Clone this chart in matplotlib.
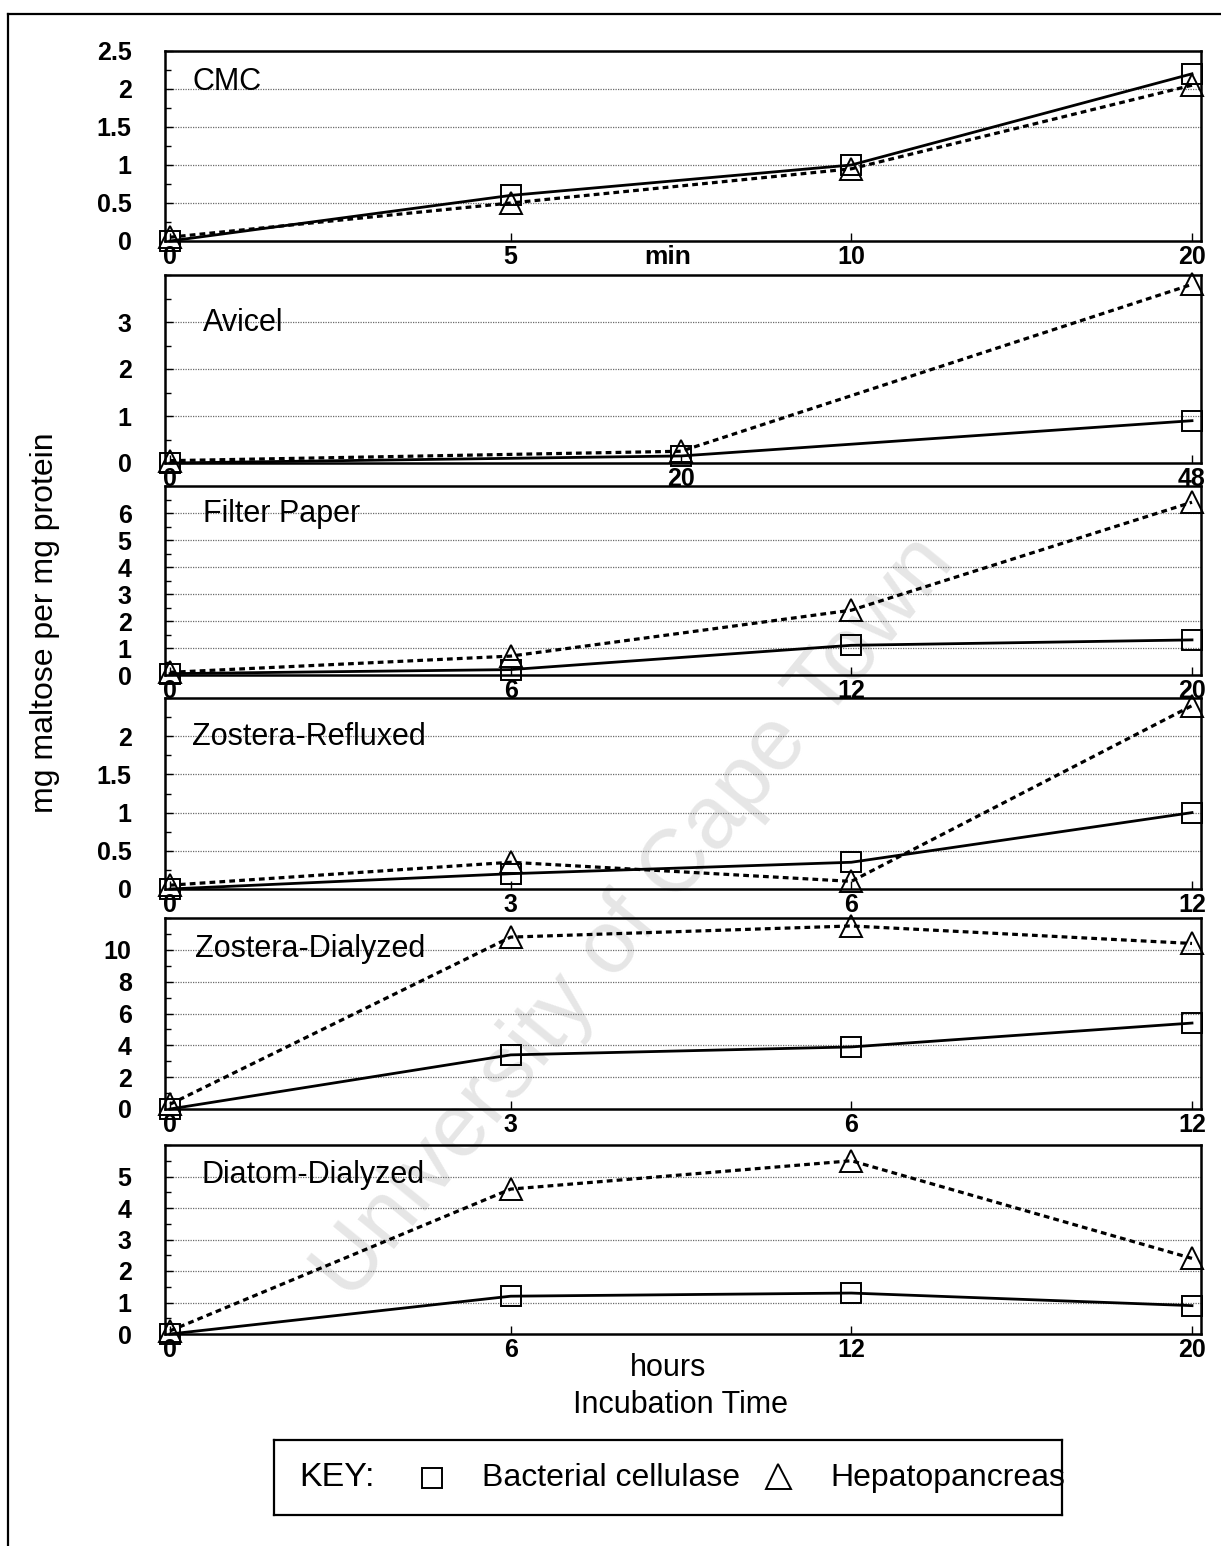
import numpy as np
import matplotlib
matplotlib.use("Agg")
import matplotlib.pyplot as plt
from matplotlib.lines import Line2D
from matplotlib.ticker import FixedLocator, AutoMinorLocator, FuncFormatter

plt.rcParams["font.family"] = ["Liberation Sans", "DejaVu Sans"]

# ---- data -------------------------------------------------------------
titles = ["CMC", "Avicel", "Filter Paper", "Zostera-Refluxed",
          "Zostera-Dialyzed", "Diatom-Dialyzed"]

cmc_times = ["0", "5", "10", "20"]
avicel_times = ["0", "20", "48"]
filter_times = ["0", "6", "12", "20"]
zref_times = ["0", "3", "6", "12"]
zdia_times = ["0", "3", "6", "12"]
diatom_times = ["0", "6", "12", "20"]

cmc_bacterial = [0.0, 0.6, 1.0, 2.2]
cmc_hepato = [0.05, 0.5, 0.95, 2.05]
avicel_bacterial = [0.0, 0.15, 0.9]
avicel_hepato = [0.05, 0.25, 3.8]
filter_bacterial = [0.05, 0.2, 1.1, 1.3]
filter_hepato = [0.1, 0.7, 2.4, 6.4]
zref_bacterial = [0.0, 0.2, 0.35, 1.0]
zref_hepato = [0.05, 0.35, 0.1, 2.4]
zdia_bacterial = [0.0, 3.4, 3.9, 5.4]
zdia_hepato = [0.3, 10.8, 11.5, 10.4]
diatom_bacterial = [0.0, 1.2, 1.3, 0.9]
diatom_hepato = [0.1, 4.6, 5.5, 2.4]

yticks_list = [
    [0, 0.5, 1, 1.5, 2, 2.5],
    [0, 1, 2, 3],
    [0, 1, 2, 3, 4, 5, 6],
    [0, 0.5, 1, 1.5, 2],
    [0, 2, 4, 6, 8, 10],
    [0, 1, 2, 3, 4, 5],
]
ymax_list = [2.5, 4, 7, 2.5, 12, 6]

times_list = [cmc_times, avicel_times, filter_times, zref_times,
              zdia_times, diatom_times]
bacterial_list = [cmc_bacterial, avicel_bacterial, filter_bacterial,
                  zref_bacterial, zdia_bacterial, diatom_bacterial]
hepato_list = [cmc_hepato, avicel_hepato, filter_hepato, zref_hepato,
               zdia_hepato, diatom_hepato]

# ---- figure -----------------------------------------------------------
W, H = 1221, 1546
fig = plt.figure(figsize=(W / 100, H / 100), dpi=100)


def fx(x):
    return x / W


def fy(y):
    return 1 - y / H


# panel extents in pixels (top, bottom)
panel_rows = [(51, 241), (275, 463), (486, 675), (698, 889), (918, 1109),
              (1145, 1334)]
left_px, right_px = 165, 1201
x0_px, x3_px = 170, 1192
unit = (x3_px - x0_px) / 3.0
xlim = ((left_px - x0_px) / unit, (right_px - x0_px) / unit)
# panel name placement (left edge, baseline) in pixels
title_pos = [(192, 90), (203, 331), (203, 522), (192, 745), (195, 957),
             (201, 1183)]

tick_font = dict(family=["Liberation Sans", "DejaVu Sans"], weight="bold",
                 size=18)

for i, (top, bot) in enumerate(panel_rows):
    ax = fig.add_axes([fx(left_px), fy(bot), fx(right_px - left_px),
                       (bot - top) / H])
    ax.set_facecolor("none")
    n = len(times_list[i])
    xs = np.linspace(0, 3, n)
    ax.plot(xs, bacterial_list[i], color="black", lw=2.0, ls="-",
            marker="s", ms=14, mfc="none", mec="black", mew=1.4,
            clip_on=False, zorder=4)
    ax.plot(xs, hepato_list[i], color="black", lw=2.3, ls=(0, (1.8, 1.3)),
            marker="^", ms=16, mfc="none", mec="black", mew=1.4,
            clip_on=False, zorder=4)

    ax.set_xlim(*xlim)
    ax.set_ylim(0, ymax_list[i])
    ax.set_xticks(xs)
    ax.set_xticklabels(times_list[i], fontdict=tick_font)
    ax.yaxis.set_major_locator(FixedLocator(yticks_list[i]))
    ax.yaxis.set_major_formatter(FuncFormatter(lambda v, p: "%g" % v))
    ax.yaxis.set_minor_locator(AutoMinorLocator(2))
    for lab in ax.get_yticklabels():
        lab.set_fontweight("bold")
        lab.set_fontsize(18)
    ax.tick_params(axis="y", which="major", direction="in", length=6,
                   width=1, pad=24)
    ax.tick_params(axis="y", which="minor", direction="in", length=4,
                   width=1)
    ax.tick_params(axis="x", direction="in", length=6, width=1, pad=3)
    for sp in ax.spines.values():
        sp.set_linewidth(1.8)
    for yv in yticks_list[i][1:]:
        ax.axhline(yv, color="#6a6a6a", lw=0.9, ls=(0, (1, 1)), zorder=1)

    tx, ty = title_pos[i]
    fig.text(fx(tx), fy(ty), titles[i], ha="left", va="baseline",
             fontsize=22, zorder=3)

# axis titles and unit labels
fig.text(fx(668), fy(257), "min", ha="center", va="center", fontsize=19,
         fontweight="bold")
fig.text(fx(668), fy(1368), "hours", ha="center", va="center", fontsize=22)
fig.text(fx(680), fy(1405), "Incubation Time", ha="center", va="center",
         fontsize=22)
fig.text(fx(45), fy(623), "mg maltose per mg protein", rotation=90,
         ha="center", va="center", fontsize=23)

# key box
leg = fig.add_axes([fx(274), fy(1515), fx(1062 - 274), (1515 - 1440) / H])
leg.set_xlim(274, 1062)
leg.set_ylim(1515, 1440)
leg.set_xticks([])
leg.set_yticks([])
for sp in leg.spines.values():
    sp.set_linewidth(1.6)
leg.text(299, 1478, "KEY:", ha="left", va="center", fontsize=24.5)
leg.plot([432], [1478], marker="s", ms=14, mfc="none", mec="black", mew=1.4)
leg.text(482, 1478, "Bacterial cellulase", ha="left", va="center",
         fontsize=23)
leg.plot([778], [1476], marker="^", ms=18, mfc="none", mec="black", mew=1.4)
leg.text(830, 1478, "Hepatopancreas", ha="left", va="center", fontsize=23,
         clip_on=False)

# page frame lines
fig.add_artist(Line2D([fx(8), 1.0], [fy(14), fy(14)], color="black", lw=1.6))
fig.add_artist(Line2D([fx(8), fx(8)], [fy(14), 0.0], color="black", lw=1.6))

# faint diagonal watermark
fig.text(fx(635), fy(918), "University of Cape Town", rotation=50.7,
         ha="center", va="center", fontsize=64, color="#e6e6e6", zorder=-1,
         rotation_mode="anchor")

fig.savefig("out.png", dpi=100, facecolor="white")
